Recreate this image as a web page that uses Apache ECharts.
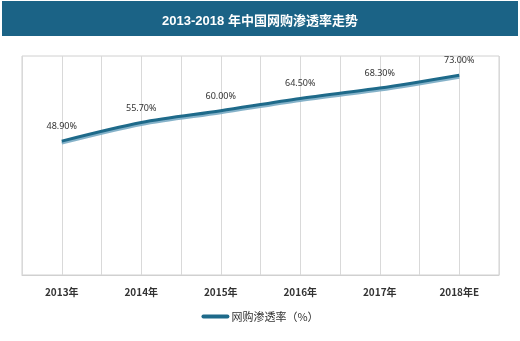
<!DOCTYPE html>
<html><head><meta charset="utf-8">
<script src="https://cdn.jsdelivr.net/npm/echarts@6/dist/echarts.min.js"></script>
<style>html,body{margin:0;padding:0;background:#fff}#c{width:520px;height:341px}</style>
</head><body><div id="c"></div>
<script>
var categories = ['2013年','2014年','2015年','2016年','2017年','2018年E'];
var values = [48.9, 55.7, 60.0, 64.5, 68.3, 73.0];
var seriesName = '网购渗透率（%）';
var titleText = '2013-2018 年中国网购渗透率走势';

var chart = echarts.init(document.getElementById('c'));
chart.setOption({
  animation: false,
  graphic: [{type:'rect', shape:{x:2,y:1,width:516,height:35}, style:{fill:'#1b6386'}, z:-1}],
  title: {text: titleText, left: 'center', top: 10,
    textStyle:{color:'#fff', fontSize:13, fontWeight:'bold', fontFamily:'Liberation Sans, Noto Sans CJK SC, sans-serif'}},
  grid: {left:22, right:21, top:56, bottom:66, show:true, borderColor:'#d0d0d0', borderWidth:1},
  legend: {bottom: 14, left:'center', itemWidth:28, itemHeight:10, itemGap:4,
    textStyle:{fontSize:11, color:'#333', padding:[0,0,0,-3], fontFamily:'Noto Sans CJK SC, sans-serif'},
    data:[{name: seriesName, icon:'path://M2,4 L26,4 A2,2 0 0 1 26,8 L2,8 A2,2 0 0 1 2,4 Z'}]},
  xAxis: {type:'value', min:-0.5, max:5.5, interval:0.5,
    axisLine:{show:true, lineStyle:{color:'#d0d0d0'}}, axisTick:{show:false},
    splitLine:{show:true, lineStyle:{color:'#d9d9d9', width:1}},
    axisLabel:{margin:12, color:'#333', fontSize:10, fontWeight:'bold', fontFamily:'Noto Sans CJK SC, sans-serif',
      formatter:function(v){var i=Math.round(v); return Math.abs(v-i)<1e-6 ? (categories[i]||'') : '';}}},
  yAxis: {type:'value', min:0, max:80, show:true, axisLine:{show:false}, axisTick:{show:false}, axisLabel:{show:false}, splitLine:{show:false}},
  series: [{
    name: seriesName, type:'line', smooth:0.3, symbol:'circle', symbolSize:0.1, showSymbol:true,
    data: values.map(function(v,i){return [i,v];}),
    itemStyle:{color:'#1e6a8a'},
    lineStyle:{color:'#1e6a8a', width:3, shadowColor:'rgba(120,170,195,0.9)', shadowOffsetY:2, shadowBlur:0},
    label:{show:true, position:'top', distance:10, color:'#333', fontSize:9, fontFamily:'Noto Sans, sans-serif',
      formatter:function(p){return p.value[1].toFixed(2)+'%';}}
  }]
});
</script></body></html>
